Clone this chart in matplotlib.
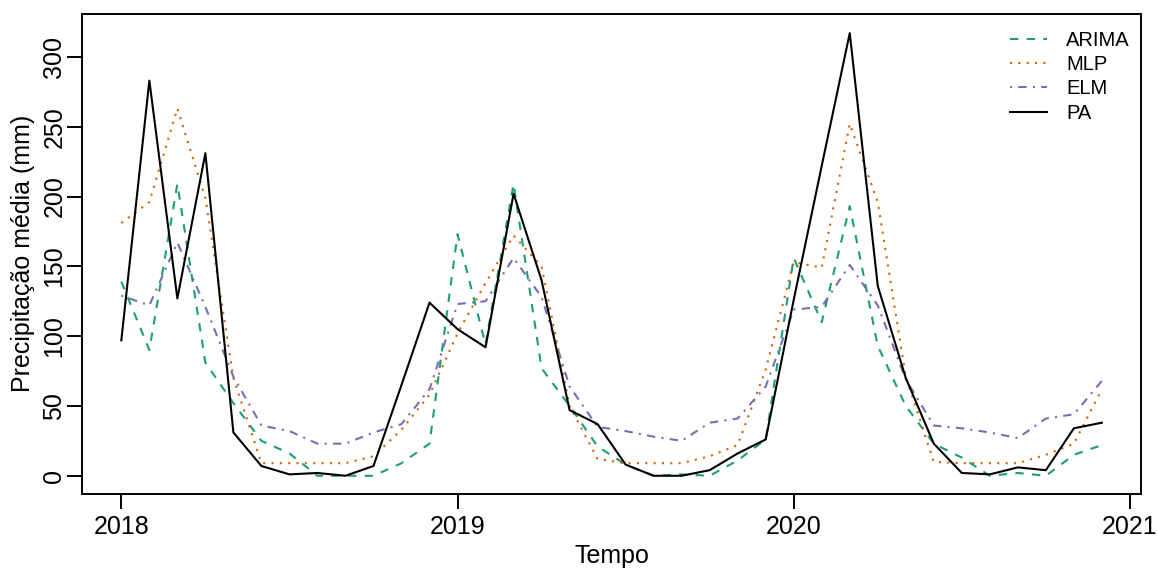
import matplotlib
matplotlib.use("Agg")
import matplotlib.pyplot as plt
import numpy as np

plt.rcParams['font.family'] = ['Liberation Sans', 'DejaVu Sans']

# monthly series, Jan 2018 .. Dec 2020
anos = 2018 + np.arange(36) / 12
pa = [97, 283, 127, 231, 31, 7, 1, 2, 0, 7, 65, 124,
      105, 92, 202, 140, 47, 37, 8, 0, 0, 4, 16, 26,
      126, 222, 317, 136, 70, 23, 2, 1, 6, 4, 34, 38]
arima = [139, 90, 209, 81, 52, 25, 16, 0, 0, 0, 9, 23,
         173, 94, 209, 77, 50, 21, 8, 0, 1, 0, 11, 26,
         156, 110, 193, 93, 50, 23, 13, 0, 2, 0, 15, 22]
mlp = [181, 196, 263, 199, 70, 9, 9, 9, 9, 14, 33, 58,
       102, 138, 172, 150, 50, 12, 9, 9, 9, 14, 22, 76,
       153, 149, 252, 196, 71, 10, 9, 9, 9, 15, 23, 62]
elm = [129, 122, 167, 121, 71, 36, 32, 23, 23, 31, 37, 62,
       123, 125, 156, 128, 64, 35, 32, 28, 25, 38, 41, 64,
       119, 121, 151, 122, 69, 36, 34, 31, 27, 41, 44, 68]
xticks = [2018, 2019, 2020, 2021]
yticks = [0, 50, 100, 150, 200, 250, 300]

fig = plt.figure(figsize=(11.57, 5.68), dpi=100)
ax = fig.add_axes([82 / 1157, 1 - 493.5 / 568, 1059 / 1157, 479.5 / 568])

lw = 1.5
ax.plot(anos, arima, color='#1B9E77', lw=lw, linestyle=(0, (4, 4)), label='ARIMA')
ax.plot(anos, mlp, color='#D95F02', lw=lw, linestyle=(0, (1, 3)), label='MLP')
ax.plot(anos, elm, color='#7570B3', lw=lw, linestyle=(0, (1, 3, 4, 3)), label='ELM')
ax.plot(anos, pa, color='black', lw=lw, label='PA')

ax.set_xlim(2017.883, 2021.033)
ax.set_ylim(-12.7, 330.7)
ax.set_xticks(xticks)
ax.set_yticks(yticks)
ax.tick_params(axis='both', length=10.8, width=1.4, labelsize=18)
ax.tick_params(axis='x', pad=4.5)
ax.tick_params(axis='y', pad=0.5, labelrotation=90)
for lab in ax.get_yticklabels():
    lab.set_va('center')
for s in ax.spines.values():
    s.set_linewidth(1.4)

ax.set_xlabel('Tempo', fontsize=18, labelpad=4)
ax.set_ylabel('Precipitação média (mm)', fontsize=18, labelpad=5.5)

ax.legend(loc='upper left', bbox_to_anchor=(1010 / 1157, 1 - 31 / 568),
          bbox_transform=fig.transFigure, frameon=False, fontsize=14.5,
          borderpad=0, borderaxespad=0, handlelength=1.84,
          handletextpad=0.95, labelspacing=0.26)

fig.savefig('out.png', dpi=100)
